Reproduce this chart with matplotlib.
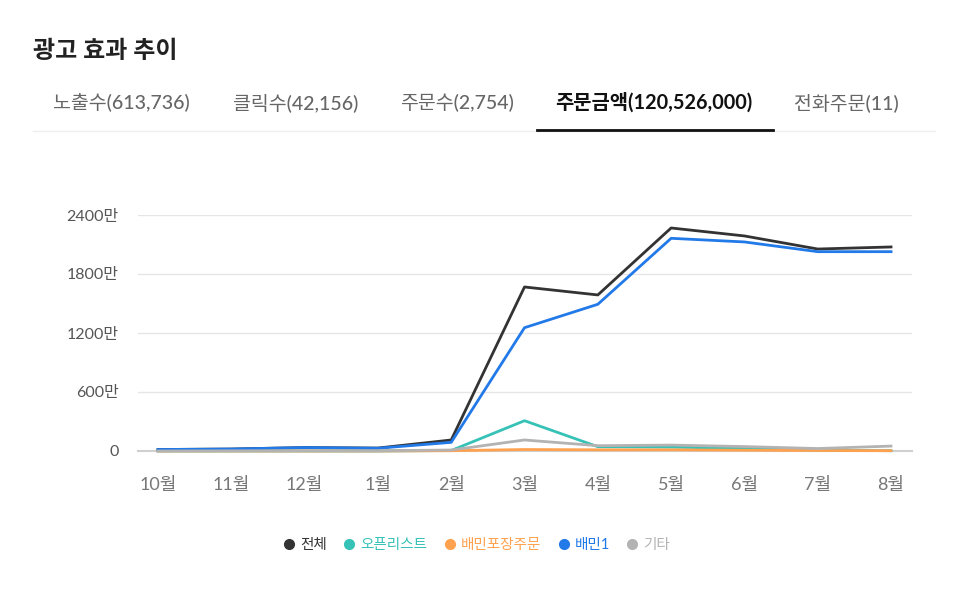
import matplotlib
matplotlib.use('Agg')
import matplotlib.pyplot as plt
from matplotlib.lines import Line2D

plt.rcParams['font.family'] = ['Lato', 'Noto Sans CJK KR', 'DejaVu Sans']

# 데이터 (단위: 만원)
months = ["10월", "11월", "12월", "1월", "2월", "3월", "4월", "5월", "6월", "7월", "8월"]
total = [15, 20, 35, 30, 112, 1668, 1587, 2268, 2187, 2054, 2075]
openlist = [0, 0, 0, 0, 5, 308, 44, 40, 25, 8, 3]
baemin_pack = [0, 0, 0, 0, 3, 15, 12, 12, 8, 5, 3]
baemin1 = [15, 20, 35, 28, 88, 1254, 1492, 2163, 2126, 2027, 2027]
etc = [0, 2, 3, 3, 10, 112, 54, 60, 45, 25, 50]

series_names = ["전체", "오픈리스트", "배민포장주문", "배민1", "기타"]
series_colors = ["#333333", "#36c2b6", "#ffa14e", "#2279e8", "#b3b3b3"]
yticks = [0, 600, 1200, 1800, 2400]
tabs = ["노출수(613,736)", "클릭수(42,156)", "주문수(2,754)", "주문금액(120,526,000)", "전화주문(11)"]
tab_x = [53, 233, 400, 555, 794]

W, H = 955, 597
fig = plt.figure(figsize=(W / 100, H / 100), dpi=100)

# 제목과 탭
fig.text(33 / W, 1 - 50 / H, "광고 효과 추이", fontsize=17.3, fontweight='bold',
         color='#222222', va='center', ha='left')
for i, (t, x) in enumerate(zip(tabs, tab_x)):
    active = (i == 3)
    fig.text(x / W, 1 - 103 / H, t, fontsize=14.3 if active else 14,
             fontweight='bold' if active else 'medium',
             color='#111111' if active else '#666666', va='center', ha='left')
fig.add_artist(Line2D([33 / W, 935 / W], [1 - 131 / H] * 2, color='#eeeeee', lw=1))
fig.add_artist(Line2D([537 / W, 773 / W], [1 - 129.5 / H] * 2, color='#111111', lw=2))

# 차트
ax = fig.add_axes([138 / W, 1 - 451 / H, (912 - 138) / W, (451 - 215) / H])
x = list(range(len(months)))
data = [total, openlist, baemin_pack, baemin1, etc]
order = [4, 2, 1, 3, 0]
for k in order:
    ax.plot(x, data[k], color=series_colors[k], lw=2, clip_on=False, zorder=3 + k * 0.1)

ax.set_xlim(-0.273, 10.286)
ax.set_ylim(0, 2400)
ax.set_yticks(yticks)
ax.set_yticklabels([("%d만" % v) if v else "0" for v in yticks])
ax.set_xticks(x)
ax.set_xticklabels(months)
ax.grid(axis='y', color='#e6e6e6', lw=1)
ax.set_axisbelow(True)
for s in ['top', 'right', 'left']:
    ax.spines[s].set_visible(False)
ax.spines['bottom'].set_color('#d0d0d0')
ax.spines['bottom'].set_linewidth(1.5)
ax.tick_params(axis='y', length=0, pad=14, labelsize=11.5, labelcolor='#555555')
ax.tick_params(axis='x', length=0, pad=19, labelsize=13, labelcolor='#777777')

handles = [Line2D([], [], marker='o', ls='none', color=c, markersize=7) for c in series_colors]
leg = fig.legend(handles, series_names, loc='center', bbox_to_anchor=(0.5, 1 - 545 / H),
                 ncol=5, frameon=False, fontsize=10.5, handlelength=0.6, handletextpad=0.45,
                 columnspacing=1.25, labelcolor=series_colors)

fig.savefig("out.png", dpi=100, facecolor='white')
